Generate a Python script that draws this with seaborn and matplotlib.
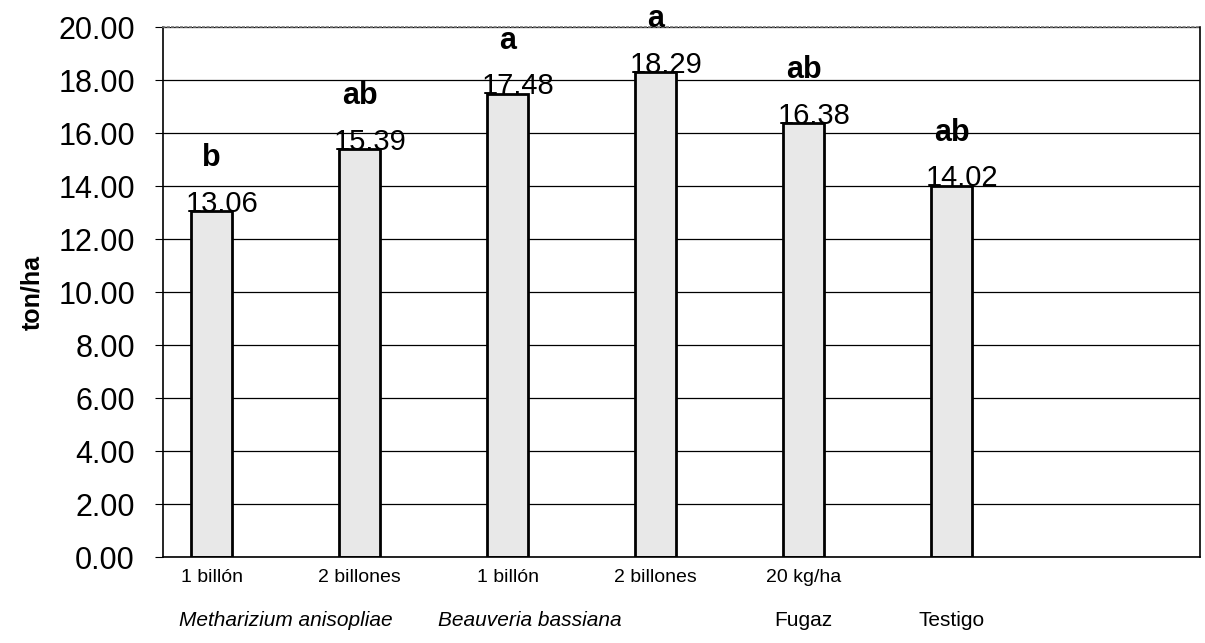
import matplotlib
matplotlib.use('Agg')
import matplotlib.pyplot as plt
import pandas as pd
import seaborn as sns

# treatments (one slot is left empty at the right, as in the original)
trat = ['M1', 'M2', 'B1', 'B2', 'F', 'T']
slots = trat + ['vacio']
dosis = ['1 billón', '2 billones', '1 billón', '2 billones', '20 kg/ha', '', '']
rend = [13.06, 15.39, 17.48, 18.29, 16.38, 14.02]
letras = ['b', 'ab', 'a', 'a', 'ab', 'ab']
grupos = ['Metharizium anisopliae', 'Beauveria bassiana', 'Fugaz', 'Testigo']
grupo_pos = [0.5, 2.15, 4, 5]

sns.set_style('white')
plt.rcParams['font.family'] = ['Liberation Sans', 'DejaVu Sans']
plt.rcParams['text.color'] = 'black'
plt.rcParams['axes.labelcolor'] = 'black'
plt.rcParams['xtick.color'] = 'black'
plt.rcParams['ytick.color'] = 'black'

df = pd.DataFrame({'trat': trat, 'rend': rend})

fig, ax = plt.subplots(figsize=(12.05, 6.43), dpi=100)
fig.subplots_adjust(left=0.135, right=0.996, top=0.958, bottom=0.133)

sns.barplot(data=df, x='trat', y='rend', order=slots, width=0.28,
            color='#e8e8e8', edgecolor='black', linewidth=2, ax=ax,
            saturation=1)

ax.set_ylim(0, 20)
ax.set_xlim(-0.33, 6.68)
ax.set_yticks(range(0, 21, 2))
ax.set_yticklabels([f'{v:.2f}' for v in range(0, 21, 2)], fontsize=22)
ax.yaxis.grid(True, color='black', linewidth=0.9)
ax.set_axisbelow(True)
ax.tick_params(axis='y', left=True, length=6, width=0.8, pad=14)

ax.set_xticks(range(len(slots)))
ax.set_xticklabels(dosis, fontsize=14)
ax.tick_params(axis='x', bottom=False, pad=5)
ax.set_xlabel('')
ax.set_ylabel('ton/ha', fontsize=18, fontweight='bold', labelpad=10)

for sp in ['left', 'right', 'bottom']:
    ax.spines[sp].set_visible(True)
    ax.spines[sp].set_color('black')
    ax.spines[sp].set_linewidth(1.2)
ax.spines['top'].set_color('#777777')
ax.spines['top'].set_linestyle(':')
ax.spines['top'].set_linewidth(1.2)

for i, (v, l) in enumerate(zip(rend, letras)):
    ax.text(i + 0.07, v - 0.25, f'{v:.2f}', ha='center', va='bottom', fontsize=21)
    ax.text(i, v + 2.0, l, ha='center', va='center', fontsize=22,
            fontweight='bold', clip_on=False)

for g, p in zip(grupos, grupo_pos):
    style = 'italic' if p < 3 else 'normal'
    ax.text(p, -0.118, g, transform=ax.get_xaxis_transform(), ha='center',
            va='center', fontsize=15, style=style)

fig.savefig('out.png', dpi=100)
